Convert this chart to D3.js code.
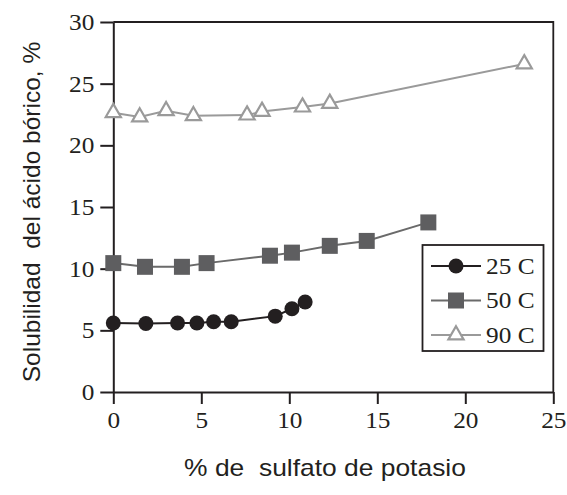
<!DOCTYPE html>
<html><head><meta charset="utf-8">
<script src="https://cdn.jsdelivr.net/npm/d3@7"></script>
<style>body{margin:0;background:#fff} text{white-space:pre}</style>
</head><body>
<svg id="c" width="567" height="495"></svg>
<script>
const xTicks=[0,5,10,15,20,25];
const yTicks=[0,5,10,15,20,25,30];
const s25x=[0,1.85,3.65,4.75,5.7,6.7,9.2,10.15,10.9];
const s25y=[5.6,5.55,5.6,5.6,5.7,5.7,6.15,6.75,7.3];
const s50x=[0,1.8,3.9,5.3,8.9,10.15,12.3,14.4,17.9];
const s50y=[10.45,10.15,10.15,10.45,11.05,11.3,11.85,12.25,13.75];
const s90x=[0,1.5,3.0,4.55,7.6,8.45,10.75,12.3,23.35];
const s90y=[22.65,22.3,22.8,22.4,22.45,22.75,23.1,23.4,26.6];
const seriesNames=["25 C","50 C","90 C"];

const svg=d3.select("#c");
const L=113.3,R=553.3,T=22,B=392;
const x=d3.scaleLinear().domain([0,25]).range([L,R]);
const y=d3.scaleLinear().domain([0,30]).range([B,T]);
const serif="'Liberation Serif','Times New Roman',serif";
const sans="'Liberation Sans',Arial,sans-serif";

svg.append("path").attr("d",`M${L},${T}H${R}V${B}`).attr("fill","none").attr("stroke","#231f20").attr("stroke-width",1.8);

const ax=svg.append("g").attr("transform",`translate(0,${B})`)
  .call(d3.axisBottom(x).tickValues(xTicks).tickSize(12).tickPadding(8).tickSizeOuter(0));
const ay=svg.append("g").attr("transform",`translate(${L},0)`)
  .call(d3.axisLeft(y).tickValues(yTicks).tickSize(13).tickPadding(6).tickSizeOuter(0));
[ax,ay].forEach(g=>{
  g.select(".domain").attr("stroke","#231f20").attr("stroke-width",2);
  g.selectAll(".tick line").attr("stroke","#231f20").attr("stroke-width",2);
  g.selectAll(".tick text").attr("fill","#231f20").style("font-family",serif).style("font-size","23px").classed("stretch",true);
});
ax.selectAll(".tick text").attr("dy","0.68em");

const series=[
 {name:seriesNames[0],xs:s25x,ys:s25y,line:"#231f20",lw:2,type:"circle"},
 {name:seriesNames[1],xs:s50x,ys:s50y,line:"#6a6a6a",lw:2,type:"square"},
 {name:seriesNames[2],xs:s90x,ys:s90y,line:"#9a9a9a",lw:2,type:"triangle"}
];
const line=d3.line().x(d=>x(d[0])).y(d=>y(d[1]));
function marker(g,type,cx,cy){
  if(type==="circle") g.append("circle").attr("cx",cx).attr("cy",cy).attr("r",7.5).attr("fill","#231f20");
  else if(type==="square") g.append("rect").attr("x",cx-8).attr("y",cy-8).attr("width",16).attr("height",16).attr("fill","#5e5e60");
  else g.append("path").attr("d",d3.symbol(d3.symbolTriangle,100)()).attr("transform",`translate(${cx},${cy})`)
      .attr("fill","#fff").attr("stroke","#9a9a9a").attr("stroke-width",2.2);
}
series.forEach(s=>{
  const pts=s.xs.map((v,i)=>[v,s.ys[i]]);
  svg.append("path").attr("d",line(pts)).attr("fill","none").attr("stroke",s.line).attr("stroke-width",s.lw);
  const g=svg.append("g");
  pts.forEach(p=>marker(g,s.type,x(p[0]),y(p[1])));
});

const lg=svg.append("g");
lg.append("rect").attr("x",422.5).attr("y",245).attr("width",121).attr("height",106)
  .attr("fill","#fff").attr("stroke","#231f20").attr("stroke-width",1.8);
series.forEach((s,i)=>{
  const cy=266+i*34.5;
  lg.append("line").attr("x1",431).attr("x2",481).attr("y1",cy).attr("y2",cy).attr("stroke",s.line).attr("stroke-width",s.lw);
  marker(lg,s.type,456,cy);
  lg.append("text").attr("x",486).attr("y",cy).attr("dy","0.34em").text(s.name)
    .attr("fill","#231f20").style("font-family",serif).style("font-size","23px").classed("stretch",true);
});

svg.append("text").attr("x",325).attr("y",476).attr("text-anchor","middle")
  .style("font-family",sans).style("font-size","24px").attr("fill","#231f20")
  .text("% de  sulfato de potasio").classed("stretch",true);
svg.append("text").attr("transform","translate(40,212) rotate(-90)").attr("text-anchor","middle")
  .style("font-family",sans).style("font-size","24.5px").attr("fill","#231f20")
  .text("Solubilidad  del ácido bórico, %");

svg.selectAll("text.stretch").each(function(){
  const w=this.getComputedTextLength();
  d3.select(this).attr("textLength",w*1.1).attr("lengthAdjust","spacingAndGlyphs");
});
</script>
</body></html>
